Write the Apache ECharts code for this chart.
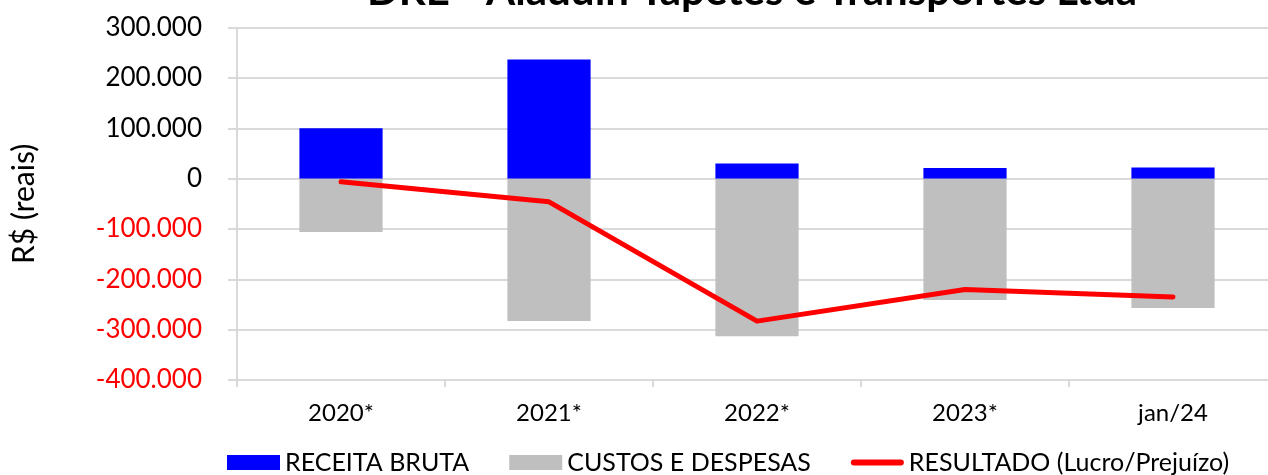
<!DOCTYPE html>
<html>
<head>
<meta charset="utf-8">
<script src="https://cdn.jsdelivr.net/npm/echarts@6/dist/echarts.min.js"></script>
<style>
  html, body { margin: 0; padding: 0; background: #fff; }
  #chart { width: 1268px; height: 475px; }
</style>
</head>
<body>
<div id="chart"></div>
<script>
  let periodos = ['2020*', '2021*', '2022*', '2023*', 'jan/24'];
  let receitaBruta = [100000, 237000, 30000, 21000, 22000];
  let custosDespesas = [-106000, -283000, -313000, -241000, -257000];
  let resultado = [-6000, -46000, -283000, -220000, -235000];

  let fonte = 'Lato, "Open Sans", sans-serif';
  let cinza = '#d9d9d9';

  function formatBR(v) {
    let s = String(Math.abs(v)).replace(/\B(?=(\d{3})+(?!\d))/g, '.');
    return (v < 0 ? '-' : '') + s;
  }

  let chart = echarts.init(document.getElementById('chart'));

  let option = {
    animation: false,
    textStyle: { fontFamily: fonte },
    title: {
      text: 'DRE - Aladdin Tapetes e Transportes Ltda',
      left: 752,
      top: -30,
      padding: 0,
      textAlign: 'center',
      textStyle: { fontFamily: fonte, fontSize: 42, fontWeight: 'bold', color: '#000' }
    },
    legend: {
      left: 227,
      top: 450,
      padding: 0,
      itemWidth: 53,
      itemHeight: 15,
      itemGap: 40,
      textStyle: { fontFamily: fonte, fontSize: 25, color: '#000' },
      data: [
        { name: 'RECEITA BRUTA', icon: 'rect' },
        { name: 'CUSTOS E DESPESAS', icon: 'rect' },
        { name: 'RESULTADO (Lucro/Prejuízo)', icon: 'path://M3,0 L50,0 A3,3 0 0 1 50,6 L3,6 A3,3 0 0 1 3,0 Z' }
      ]
    },
    grid: { left: 237, width: 1040, top: 27.7, bottom: 95, outerBoundsMode: 'none' },
    xAxis: [
      {
        type: 'category',
        data: periodos,
        position: 'bottom',
        axisLine: { show: false },
        axisTick: { show: false },
        axisLabel: { fontFamily: fonte, fontSize: 24, color: '#000', margin: 21 }
      },
      {
        type: 'category',
        data: periodos,
        position: 'bottom',
        z: 3,
        axisLine: { show: true, onZero: true, lineStyle: { color: cinza, width: 2 } },
        axisTick: { show: true, length: 7, lineStyle: { color: cinza, width: 2 } },
        axisLabel: { show: false }
      }
    ],
    yAxis: {
      type: 'value',
      min: -400000,
      max: 300000,
      interval: 100000,
      name: 'R$ (reais)',
      nameLocation: 'middle',
      nameGap: 198,
      nameRotate: 90,
      nameTextStyle: { fontFamily: fonte, fontSize: 30, color: '#000' },
      axisLine: { show: true, lineStyle: { color: cinza, width: 2 } },
      axisTick: { show: true, length: 9, lineStyle: { color: cinza, width: 2 } },
      axisLabel: {
        fontFamily: fonte,
        fontSize: 26,
        margin: 35,
        formatter: formatBR,
        color: function(v) { return Number(v) < 0 ? '#ff0000' : '#000000'; }
      },
      splitLine: { show: true, lineStyle: { color: cinza, width: 2 } }
    },
    series: [
      {
        name: 'RECEITA BRUTA',
        type: 'bar',
        barWidth: '40%',
        barGap: '-100%',
        itemStyle: { color: '#0000ff' },
        data: receitaBruta
      },
      {
        name: 'CUSTOS E DESPESAS',
        type: 'bar',
        barWidth: '40%',
        barGap: '-100%',
        itemStyle: { color: '#bfbfbf' },
        data: custosDespesas
      },
      {
        name: 'RESULTADO (Lucro/Prejuízo)',
        type: 'line',
        symbol: 'none',
        z: 5,
        lineStyle: { color: '#ff0000', width: 5, cap: 'round', join: 'round' },
        itemStyle: { color: '#ff0000' },
        data: resultado
      }
    ]
  };

  chart.setOption(option);
</script>
</body>
</html>
